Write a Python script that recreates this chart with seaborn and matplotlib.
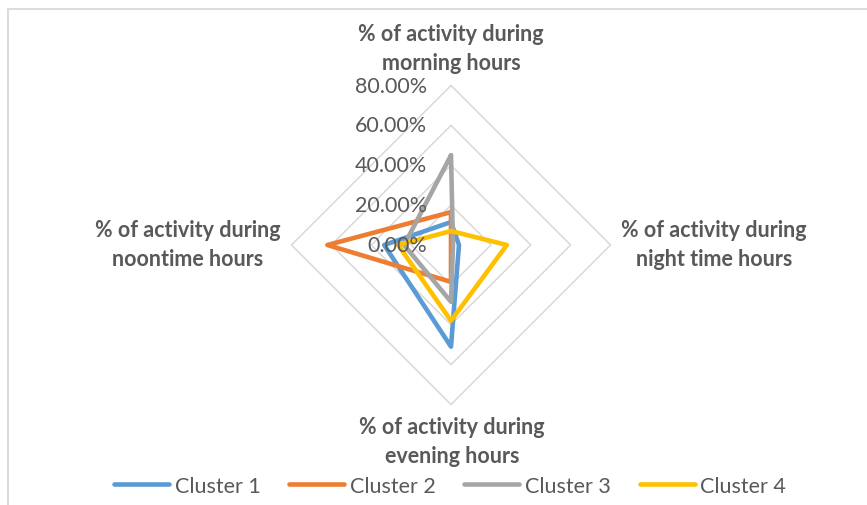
import numpy as np
import matplotlib
matplotlib.use('Agg')
import matplotlib.pyplot as plt
from matplotlib.lines import Line2D
from matplotlib.transforms import offset_copy
import pandas as pd
import seaborn as sns

# Radar axes, clockwise from the top (same order as the Excel chart)
categories = ['% of activity during\nmorning hours',
              '% of activity during\nnight time hours',
              '% of activity during\nevening hours',
              '% of activity during\nnoontime hours']
clusters = ['Cluster 1', 'Cluster 2', 'Cluster 3', 'Cluster 4']

# values in percent
cluster1 = [11.5, 4.0, 51.0, 33.5]
cluster2 = [16.5, 0.0, 18.5, 62.0]
cluster3 = [45.0, 1.0, 28.5, 23.5]
cluster4 = [7.0, 28.0, 38.0, 26.5]

ring_levels = [0, 20, 40, 60, 80]
ring_labels = ['0.00%', '20.00%', '40.00%', '60.00%', '80.00%']
colors = ['#5B9BD5', '#ED7D31', '#A5A5A5', '#FFC000']
text_color = '#595959'
grid_color = '#d9d9d9'

# long table, each polygon closed by repeating its first point
angles = np.linspace(0, 2 * np.pi, len(categories), endpoint=False)
closed_angles = list(angles) + [angles[0]]
rows = []
for name, vals in zip(clusters, [cluster1, cluster2, cluster3, cluster4]):
    for a, v in zip(closed_angles, vals + [vals[0]]):
        rows.append({'cluster': name, 'angle': a, 'value': v})
df = pd.DataFrame(rows)

sns.set_theme(style='white')
plt.rcParams['font.family'] = ['Lato', 'DejaVu Sans']

W, H = 867, 506
fig = plt.figure(figsize=(W / 100, H / 100), dpi=100)
fig.patch.set_facecolor('white')

# polar axes placed so the centre sits at (451, 246) px, 80% ring = 159.5 px
cx, cy, rad = 451, 246, 159.5
ax = fig.add_axes([(cx - rad) / W, (H - cy - rad) / H, 2 * rad / W, 2 * rad / H],
                  projection='polar')
ax.set_theta_offset(np.pi / 2)
ax.set_theta_direction(-1)
ax.set_ylim(0, 80)
ax.set_facecolor('none')
ax.grid(False)
ax.spines['polar'].set_visible(False)

# diamond shaped grid rings
for r in ring_levels[1:]:
    ax.plot(closed_angles, [r] * len(closed_angles), color=grid_color,
            lw=1.1, zorder=1, clip_on=False)

sns.lineplot(data=df, x='angle', y='value', hue='cluster', palette=colors,
             sort=False, estimator=None, lw=3.3, legend=False, ax=ax,
             solid_joinstyle='round', zorder=3)

ax.set_xticks([])
ax.set_yticks([])
ax.set_xlabel('')
ax.set_ylabel('')

# value labels along the top spoke
shift = offset_copy(ax.transData, fig=fig, x=-24, y=0, units='dots')
for r, lab in zip(ring_levels, ring_labels):
    ax.text(0, r, lab, transform=shift, ha='right', va='center',
            fontsize=15.5, color=text_color, zorder=5)

# category labels
label_pos = [(451, 49), (714, 245), (452, 442), (188, 245)]
for lab, (x, y) in zip(categories, label_pos):
    fig.text(x / W, 1 - y / H, lab, ha='center', va='center', fontsize=15.5,
             fontweight='bold', color=text_color, linespacing=1.45)

# legend
handles = [Line2D([], [], color=c, lw=3.3) for c in colors]
fig.legend(handles, clusters, loc='center', bbox_to_anchor=(450 / W, 1 - 487 / H),
           ncol=4, frameon=False, fontsize=15.5, handlelength=2.55,
           handletextpad=0.25, columnspacing=1.35, labelcolor=text_color)

# chart area border (only top and left edges are visible in the crop)
fig.add_artist(Line2D([8 / W, 1], [1 - 10 / H, 1 - 10 / H],
                      transform=fig.transFigure, color='#dcdcdc', lw=1.5))
fig.add_artist(Line2D([8 / W, 8 / W], [0, 1 - 10 / H],
                      transform=fig.transFigure, color='#dcdcdc', lw=1.5))

fig.savefig('out.png', dpi=100)
